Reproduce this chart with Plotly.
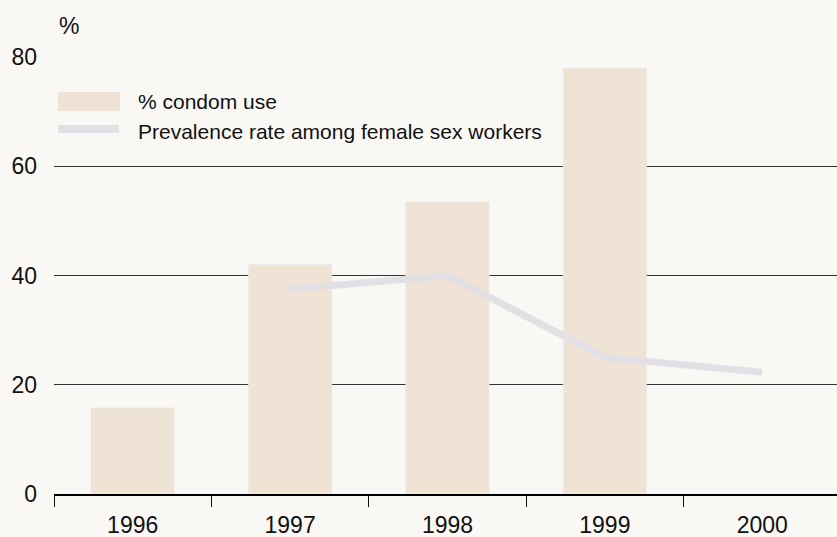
import plotly.graph_objects as go

years = ["1996", "1997", "1998", "1999", "2000"]
condom_use = [15.8, 42, 53.5, 78, None]
prev_years = ["1997", "1998", "1999", "2000"]
prevalence = [37.5, 40, 25, 22.3]
y_ticks = [0, 20, 40, 60, 80]

W, H = 837, 537
ML, MR, MT, MB = 54, 0, 57, 43
PW, PH = W - ML - MR, H - MT - MB

def px(x):
    return (x - ML) / PW

def py(y):
    return (H - MB - y) / PH

BG = "#f9f8f4"
BAR = "#efe3d6"
LINE = "#e2e0e4"
FONT = "Liberation Sans, Arial, sans-serif"

fig = go.Figure()
fig.add_trace(go.Bar(x=years, y=condom_use, marker_color=BAR, width=0.53,
                     name="% condom use", showlegend=False))
fig.add_trace(go.Scatter(x=prev_years, y=prevalence, mode="lines",
                         line=dict(color=LINE, width=7),
                         name="Prevalence rate among female sex workers", showlegend=False))

shapes = [
    dict(type="rect", xref="paper", yref="paper", x0=px(58), x1=px(120), y0=py(111), y1=py(92),
         fillcolor=BAR, line_width=0, layer="above"),
    dict(type="rect", xref="paper", yref="paper", x0=px(58), x1=px(119), y0=py(133), y1=py(125),
         fillcolor=LINE, line_width=0, layer="above"),
]
annotations = [
    dict(text="% condom use", xref="paper", yref="paper", x=px(136), y=py(101),
         xanchor="left", yanchor="middle", showarrow=False, font=dict(size=21, color="#111")),
    dict(text="Prevalence rate among female sex workers", xref="paper", yref="paper", x=px(136), y=py(131),
         xanchor="left", yanchor="middle", showarrow=False, font=dict(size=21, color="#111")),
    dict(text="%", xref="paper", yref="paper", x=px(57), y=py(26),
         xanchor="left", yanchor="middle", showarrow=False, font=dict(size=23, color="#111")),
]

fig.update_layout(
    width=W, height=H,
    margin=dict(l=ML, r=MR, t=MT, b=MB, autoexpand=False),
    paper_bgcolor=BG, plot_bgcolor=BG,
    font=dict(family=FONT, size=23, color="#111"),
    bargap=0.47,
    showlegend=False,
    shapes=shapes,
    annotations=annotations,
    xaxis=dict(type="category", range=[-0.5, 4.475], tickson="boundaries",
               ticks="outside", ticklen=11, tickwidth=1, tickcolor="#111",
               showline=True, linecolor="#000", linewidth=2, automargin=False,
               showgrid=False, zeroline=False, ticklabelstandoff=9),
    yaxis=dict(range=[0, 80], tickvals=y_ticks, showgrid=True, gridcolor="#333",
               gridwidth=1, zeroline=False, showline=False, ticks="", automargin=False,
               ticklabelstandoff=16),
)

fig.write_html("out.html", config={"displayModeBar": False},
               post_script="document.body.style.margin='0';document.body.style.background='" + BG + "';")
